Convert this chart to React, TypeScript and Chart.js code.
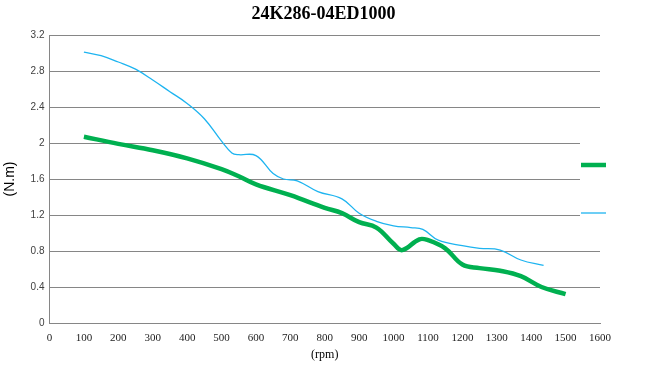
import { useEffect, useRef } from "react";
import { Chart, registerables } from "chart.js";

Chart.register(...registerables);

const chartTitle = "24K286-04ED1000";
const xAxisTitle = "(rpm)";
const yAxisTitle = "(N.m)";

const xTicks = [0, 100, 200, 300, 400, 500, 600, 700, 800, 900, 1000, 1100, 1200, 1300, 1400, 1500, 1600];
const yTicks = [0, 0.4, 0.8, 1.2, 1.6, 2, 2.4, 2.8, 3.2];

const seriesNames = ["", ""];

const greenSpeed = [100, 200, 300, 400, 500, 550, 600, 700, 800, 850, 900, 950, 1000, 1025, 1075, 1100, 1150, 1200, 1250, 1310, 1370, 1430, 1500];
const greenTorque = [2.07, 1.99, 1.92, 1.83, 1.71, 1.63, 1.54, 1.42, 1.28, 1.22, 1.12, 1.06, 0.88, 0.81, 0.93, 0.92, 0.83, 0.65, 0.61, 0.58, 0.52, 0.4, 0.32];

const blueSpeed = [100, 150, 200, 250, 300, 350, 400, 450, 500, 530, 550, 600, 650, 680, 720, 780, 850, 900, 950, 1000, 1050, 1085, 1130, 1200, 1250, 1310, 1370, 1436];
const blueTorque = [3.01, 2.97, 2.9, 2.82, 2.7, 2.57, 2.44, 2.27, 2.02, 1.89, 1.87, 1.86, 1.66, 1.6, 1.58, 1.46, 1.38, 1.22, 1.13, 1.08, 1.06, 1.04, 0.92, 0.86, 0.83, 0.81, 0.7, 0.64];

const greenColor = "#00b050";
const blueColor = "#1eb4f0";
const gridColor = "#868686";

const legendPlugin = {
  id: "sideLegend",
  afterDraw(chart: any) {
    const { ctx, chartArea } = chart;
    ctx.save();
    ctx.fillStyle = "#ffffff";
    ctx.fillRect(chartArea.right - 20, 122, 60, 116);
    const rows = [165, 213];
    chart.data.datasets.forEach((ds: any, i: number) => {
      ctx.strokeStyle = ds.borderColor;
      ctx.lineWidth = ds.borderWidth;
      ctx.beginPath();
      ctx.moveTo(chartArea.right - 19, rows[i]);
      ctx.lineTo(chartArea.right + 6, rows[i]);
      ctx.stroke();
    });
    ctx.restore();
  },
};

export default function App() {
  const ref = useRef<HTMLCanvasElement | null>(null);
  useEffect(() => {
    if (!ref.current) return;
    const chart = new Chart(ref.current, {
      type: "line",
      data: {
        datasets: [
          {
            label: seriesNames[0],
            data: greenSpeed.map((x, i) => ({ x, y: greenTorque[i] })),
            borderColor: greenColor,
            backgroundColor: greenColor,
            borderWidth: 4.5,
            pointRadius: 0,
            tension: 0.4,
            fill: false,
          },
          {
            label: seriesNames[1],
            data: blueSpeed.map((x, i) => ({ x, y: blueTorque[i] })),
            borderColor: blueColor,
            backgroundColor: blueColor,
            borderWidth: 1.3,
            pointRadius: 0,
            tension: 0.4,
            fill: false,
          },
        ],
      },
      options: {
        responsive: false,
        animation: false,
        devicePixelRatio: 1,
        layout: { padding: { left: 0, right: 0, top: 0, bottom: 0 } },
        plugins: {
          legend: { display: false },
          tooltip: { enabled: false },
          title: {
            display: true,
            text: chartTitle,
            color: "#000000",
            font: { family: "Liberation Serif", size: 18, weight: "bold" },
            padding: { top: 4, bottom: 9.4 },
          },
        },
        scales: {
          x: {
            type: "linear",
            min: 0,
            max: 1600,
            afterBuildTicks: (s: any) => {
              s.ticks = xTicks.map((v) => ({ value: v }));
            },
            afterFit: (s: any) => {
              s.height = 54;
            },
            grid: { display: false, drawTicks: false },
            border: { display: true, color: gridColor, width: 1 },
            ticks: {
              padding: 9,
              color: "#222222",
              maxRotation: 0,
              autoSkip: false,
              font: { family: "Liberation Serif", size: 11 },
              callback: (v: any) => String(v),
            },
            title: {
              display: true,
              text: xAxisTitle,
              color: "#000000",
              font: { family: "Liberation Serif", size: 12 },
              padding: { top: 15, bottom: 15 },
            },
          },
          y: {
            type: "linear",
            min: 0,
            max: 3.2,
            afterBuildTicks: (s: any) => {
              s.ticks = yTicks.map((v) => ({ value: v }));
            },
            afterFit: (s: any) => {
              s.width = 49.5;
            },
            grid: { display: true, color: gridColor, lineWidth: 1, drawTicks: false },
            border: { display: true, color: gridColor, width: 1 },
            ticks: {
              padding: 5,
              color: "#404040",
              font: { family: "Liberation Sans", size: 10 },
              callback: (v: any) => String(Number(Number(v).toFixed(1))),
            },
            title: {
              display: true,
              text: yAxisTitle,
              color: "#000000",
              font: { family: "Liberation Sans", size: 14 },
              padding: { top: 2, bottom: 2 },
            },
          },
          yRight: {
            type: "linear",
            position: "right",
            display: true,
            grid: { display: false },
            border: { display: false },
            ticks: { display: false },
            afterFit: (s: any) => {
              s.width = 47;
            },
          },
        },
      },
      plugins: [legendPlugin],
    } as any);
    return () => chart.destroy();
  }, []);
  return (
    <div style={{ position: "fixed", left: 0, top: 0, width: 647, height: 377, background: "#ffffff" }}>
      <canvas ref={ref} width={647} height={377} style={{ display: "block" }} />
    </div>
  );
}
